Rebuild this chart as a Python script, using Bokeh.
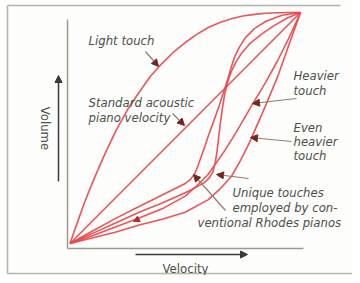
from bokeh.plotting import figure
from bokeh.models import Range1d, Arrow, NormalHead
from bokeh.core.properties import value
from bokeh.embed import file_html
from bokeh.resources import INLINE

# ---- data (normalized velocity -> volume) ----
light_u = [0, 0.03, 0.06, 0.1, 0.15, 0.2, 0.25, 0.3, 0.35, 0.4, 0.45, 0.5, 0.55, 0.6, 0.65, 0.7, 0.75, 0.8, 0.85, 0.9, 0.95, 1.0]
light_v = [0, 0.085, 0.17, 0.27, 0.385, 0.49, 0.58, 0.655, 0.725, 0.78, 0.83, 0.87, 0.905, 0.935, 0.957, 0.973, 0.985, 0.992, 0.997, 0.999, 1.0, 1.0]

standard_u = [0, 1.0]
standard_v = [0, 1.0]

heavier_u = [0, 0.1, 0.2, 0.3, 0.4, 0.5, 0.55, 0.6, 0.67, 0.72, 0.79, 0.85, 0.9, 0.95, 1.0]
heavier_v = [0, 0.035, 0.072, 0.11, 0.15, 0.205, 0.25, 0.30, 0.40, 0.48, 0.60, 0.70, 0.79, 0.89, 1.0]

even_u = [0, 0.1, 0.2, 0.3, 0.4, 0.5, 0.6, 0.65, 0.7, 0.74, 0.78, 0.85, 0.9, 0.95, 1.0]
even_v = [0, 0.025, 0.05, 0.08, 0.105, 0.135, 0.19, 0.235, 0.29, 0.36, 0.44, 0.60, 0.72, 0.86, 1.0]

rhodes_a_u = [0, 0.1, 0.2, 0.3, 0.4, 0.5, 0.52, 0.54, 0.555, 0.567, 0.585, 0.6, 0.62, 0.645, 0.665, 0.684, 0.70, 0.715, 0.735, 0.76, 0.8, 0.85, 0.92, 1.0]
rhodes_a_v = [0, 0.055, 0.11, 0.16, 0.21, 0.26, 0.275, 0.30, 0.335, 0.37, 0.42, 0.465, 0.52, 0.59, 0.65, 0.71, 0.765, 0.81, 0.85, 0.89, 0.93, 0.962, 0.988, 1.0]

rhodes_b_u = [0, 0.1, 0.2, 0.3, 0.4, 0.5, 0.55, 0.585, 0.605, 0.62, 0.63, 0.638, 0.645, 0.652, 0.66, 0.67, 0.684, 0.70, 0.72, 0.745, 0.78, 0.83, 0.88, 0.94, 1.0]
rhodes_b_v = [0, 0.045, 0.09, 0.135, 0.175, 0.22, 0.245, 0.265, 0.285, 0.31, 0.35, 0.40, 0.46, 0.52, 0.576, 0.64, 0.70, 0.745, 0.785, 0.825, 0.865, 0.905, 0.94, 0.975, 1.0]

curves = [
    (light_u, light_v),
    (standard_u, standard_v),
    (heavier_u, heavier_v),
    (even_u, even_v),
    (rhodes_a_u, rhodes_a_v),
    (rhodes_b_u, rhodes_b_v),
]

# ---- layout: map picture pixels to data coordinates ----
W, H = 352, 275
X0, X1 = -0.3015, 1.2256
Y0, Y1 = -0.1385, 1.0519


def dx(px):
    return X0 + px / W * (X1 - X0)


def dy(py):
    return Y1 - py / H * (Y1 - Y0)


p = figure(width=W, height=H, output_backend="svg", toolbar_location=None,
           x_range=Range1d(X0, X1), y_range=Range1d(Y0, Y1),
           x_axis_location=None, y_axis_location=None, min_border=0)
p.grid.visible = False
p.outline_line_color = None
p.background_fill_color = "#fdfdfb"
p.border_fill_color = "#fdfdfb"

# outer frame
p.segment(x0=[dx(7), dx(7), dx(7)], y0=[dy(5), dy(5), dy(273)],
          x1=[dx(340), dx(7), dx(352)], y1=[dy(5), dy(273), dy(273)],
          line_color="#b4b4a6", line_width=1.5)

# axes lines
p.segment(x0=[dx(67), dx(67)], y0=[dy(19), dy(248)], x1=[dx(67), dx(303)], y1=[dy(248), dy(248)],
          line_color="#9a9c8c", line_width=1.5)

# curves
for u, v in curves:
    p.line(u, v, line_color="#e8464c", line_width=1.6, line_alpha=0.92, line_join="round")

FONT = value("'DejaVu Sans Condensed', 'Liberation Sans Narrow', 'Open Sans', sans-serif")
TXT = "#4b5046"


def label(x, y, s, size="13px", style="italic", angle=0.0, align="left"):
    p.text(x=[dx(x)], y=[dy(y)], text=[s], text_font=FONT, text_font_size=size,
           text_font_style=style, text_color=TXT, text_align=align,
           text_baseline="middle", angle=angle)


label(88, 40, "Light touch")
label(88, 102, "Standard acoustic")
label(88, 117, "piano velocity")
label(293, 75, "Heavier")
label(293, 90, "touch")
label(293, 127, "Even")
label(293, 141, "heavier")
label(293, 155, "touch")
label(232, 192, "Unique touches")
label(232, 207, "employed by con-")
label(197, 222, "ventional Rhodes pianos")
label(45, 128, "Volume", style="normal", angle=-1.5708, align="center")
label(185, 268, "Velocity", style="normal", align="center")

# pointer arrows
PTR = "#8d7e70"
HEAD = "#6e2a1e"
pointers = [
    (145, 51, 158, 66),
    (172, 113, 184, 125),
    (296, 98, 252, 103),
    (291, 141, 250, 137),
    (225, 210, 193, 174),
    (248, 178, 216, 174),
]
for xs, ys, xe, ye in pointers:
    p.add_layout(Arrow(end=NormalHead(size=7, fill_color=HEAD, line_color=HEAD),
                       x_start=dx(xs), y_start=dy(ys), x_end=dx(xe), y_end=dy(ye),
                       line_color=PTR, line_width=1.2))

# small direction mark on a curve
p.add_layout(Arrow(end=NormalHead(size=6, fill_color="#a8302a", line_color="#a8302a"),
                   x_start=dx(141), y_start=dy(217), x_end=dx(133), y_end=dy(221),
                   line_color="#a8302a", line_width=1, line_alpha=0))

# axis direction arrows
AX = "#3a3a36"
p.add_layout(Arrow(end=NormalHead(size=7, fill_color=AX, line_color=AX),
                   x_start=dx(58), y_start=dy(181), x_end=dx(58), y_end=dy(75),
                   line_color=AX, line_width=1.5))
p.add_layout(Arrow(end=NormalHead(size=7, fill_color=AX, line_color=AX),
                   x_start=dx(135), y_start=dy(254), x_end=dx(247), y_end=dy(254),
                   line_color=AX, line_width=1.5))

open("out.html", "w").write(file_html(p, INLINE))
